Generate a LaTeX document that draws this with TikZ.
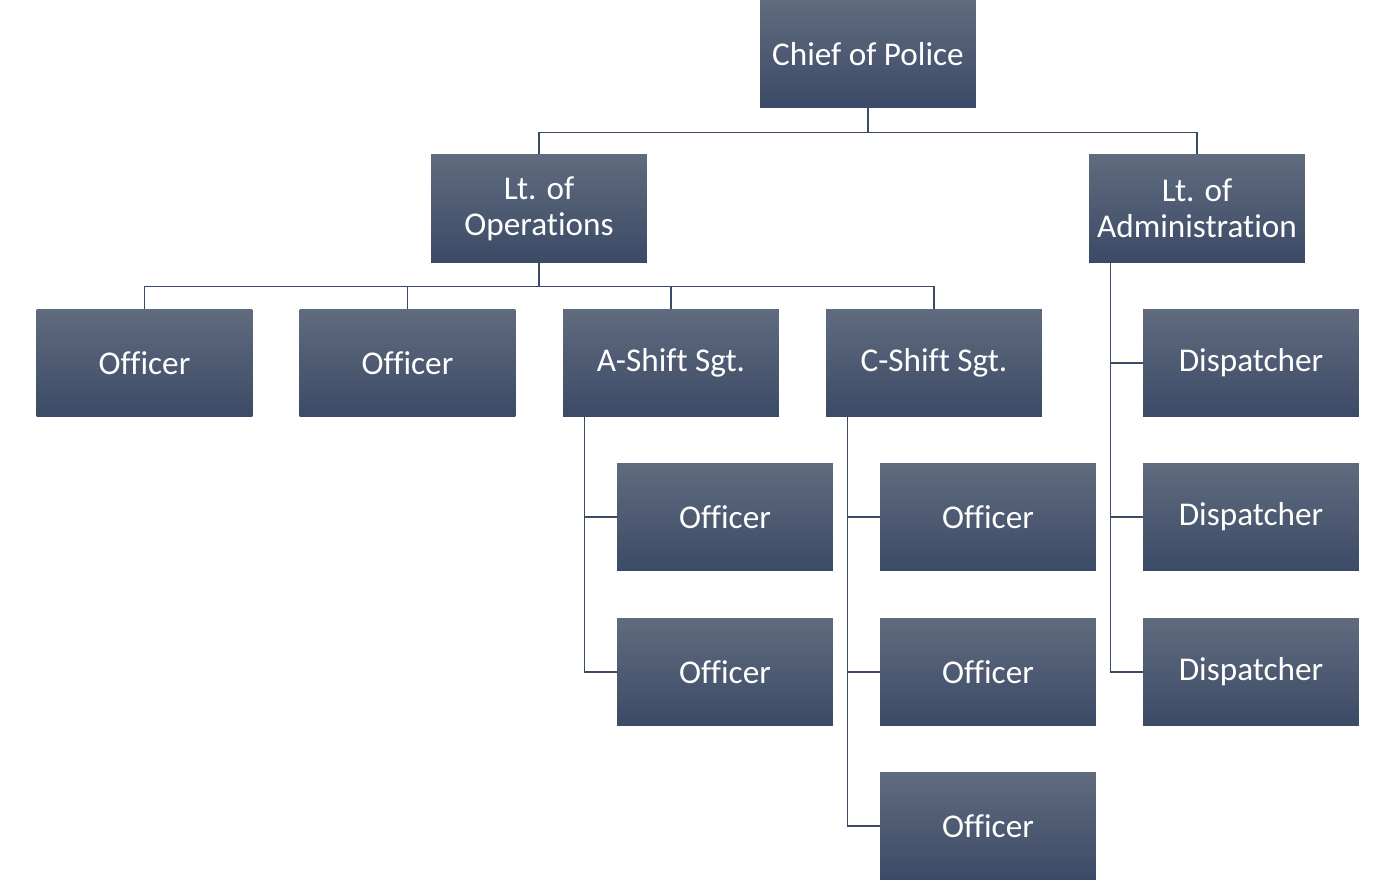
\documentclass[tikz,border=0pt]{standalone}
\usepackage{fontspec}
\setmainfont[Ligatures=NoCommon]{Carlito}
\definecolor{boxtop}{HTML}{606B7E}
\definecolor{boxbot}{HTML}{3B4A66}
\definecolor{linkcol}{HTML}{3B4A66}
\tikzset{
  rankbox/.style={rectangle, minimum width=4.32cm, minimum height=2.16cm,
    inner sep=2pt, top color=boxtop, bottom color=boxbot, draw=none,
    text=white, align=center, font=\fontsize{18.9}{20.5}\selectfont},
  link/.style={draw=linkcol, line width=0.6pt}
}
\begin{document}
\begin{tikzpicture}[x=0.02cm,y=-0.02cm]
\useasboundingbox (0,0) rectangle (1397,881);

\node[rankbox] (chief) at (868,54) {Chief of Police};
\node[rankbox] (ops) at (539,208.5) {Lt. of\\Operations};
\node[rankbox] (admin) at (1197,208.5) {Lt. of\\Administration};

\node[rankbox] (off1) at (144.5,363) {Officer};
\node[rankbox] (off2) at (407.5,363) {Officer};
\node[rankbox] (asgt) at (671,363) {A-Shift Sgt.};
\node[rankbox] (csgt) at (934,363) {C-Shift Sgt.};

\node[rankbox] (aoff1) at (725,517) {Officer};
\node[rankbox] (aoff2) at (725,672) {Officer};
\node[rankbox] (coff1) at (988,517) {Officer};
\node[rankbox] (coff2) at (988,672) {Officer};
\node[rankbox] (coff3) at (988,826) {Officer};

\node[rankbox] (disp1) at (1251,363) {Dispatcher};
\node[rankbox] (disp2) at (1251,517) {Dispatcher};
\node[rankbox] (disp3) at (1251,672) {Dispatcher};

% chief to lieutenants
\draw[link] (chief.south) -- ++(0,24) -| (ops.north);
\draw[link] (chief.south) -- ++(0,24) -| (admin.north);

% operations
\foreach \n in {off1,off2,asgt,csgt}
  \draw[link] (ops.south) -- ++(0,24) -| (\n.north);

% sergeants and dispatch
\foreach \n in {aoff1,aoff2}
  \draw[link] ([xshift=0.44cm]asgt.south west) |- (\n.west);
\foreach \n in {coff1,coff2,coff3}
  \draw[link] ([xshift=0.44cm]csgt.south west) |- (\n.west);
\foreach \n in {disp1,disp2,disp3}
  \draw[link] ([xshift=0.44cm]admin.south west) |- (\n.west);
\end{tikzpicture}
\end{document}
